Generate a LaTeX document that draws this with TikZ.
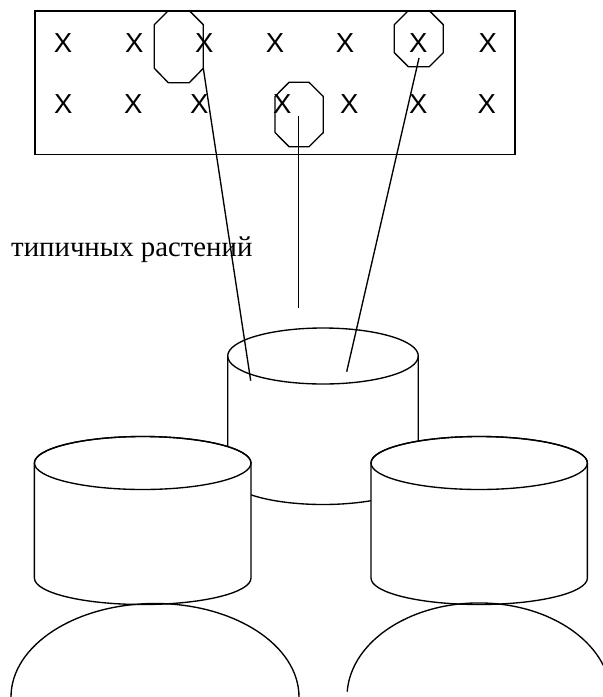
\documentclass[tikz,border=0pt]{standalone}
\usepackage{fontspec}
\setmainfont{Liberation Serif}
\newfontfamily\xsans{Liberation Sans}
\tikzset{
  ln/.style={line width=1.35pt, black},
  xmark/.style={anchor=base, inner sep=0pt, font=\xsans\fontsize{27.5}{32}\selectfont},
  lbl/.style={anchor=base west, inner sep=0pt, font=\fontsize{28.8}{34}\selectfont},
  cylfill/.style={ln, fill=white}
}
\begin{document}
\begin{tikzpicture}[x=1pt,y=-1pt]
\useasboundingbox (0,0) rectangle (603,697);
\clip (0,0) rectangle (603,697);
% field rectangle
\draw[ln] (35,11) rectangle (515,154.5);
% X marks row 1
\foreach \xx/\n in {63/a1,134.3/a2,204.3/a3,275/a4,345/a5,418.3/a6,487.7/a7}
  \node[xmark] (\n) at (\xx,52.7) {X};
% X marks row 2
\foreach \xx/\n in {63.3/b1,133.3/b2,199.3/b3,282.3/b4,349.3/b5,418.3/b6,486.7/b7}
  \node[xmark] (\n) at (\xx,113.3) {X};
% octagons
\draw[ln] (168.3,10.7) -- (189.3,10.7) -- (203.3,24.7) -- (203.3,68.3) -- (189.3,82.7) -- (168.3,82.7) -- (154.3,68.3) -- (154.3,24.7) -- cycle;
\draw[ln] (408.3,10.7) -- (429.3,10.7) -- (443.3,24.7) -- (443.3,52.7) -- (429.3,66.7) -- (408.3,66.7) -- (394.3,52.7) -- (394.3,24.7) -- cycle;
\draw[ln] (289,82.3) -- (309,82.3) -- (323.3,96.5) -- (323.3,132.5) -- (309,146.7) -- (289,146.7) -- (275,132.5) -- (275,96.5) -- cycle;
% label
\node[lbl] (label) at (11,256) {типичных растений};
% top cylinder
\draw[ln] (227.7,356) -- (227.7,476.5) arc[start angle=180, end angle=360, x radius=95.3pt, y radius=28pt] -- (418.3,356);
\draw[ln] (323,356) ellipse [x radius=95.3pt, y radius=28pt];
% connector end points
\coordinate (s1) at (203.3,68.3);
\coordinate (e1) at (250.7,380.7);
\coordinate (s2) at (298.3,116);
\coordinate (e2) at (298.3,308);
\coordinate (s3) at (419,58);
\coordinate (e3) at (346.7,371.7);
\draw[ln] (s1) -- (e1);
\draw[ln] (s2) -- (e2);
\draw[ln] (s3) -- (e3);
% left cylinder
\filldraw[cylfill] (34.4,463) -- (34.4,578) arc[start angle=180, end angle=360, x radius=108.3pt, y radius=26.5pt] -- (251,463) arc[start angle=0, end angle=180, x radius=108.3pt, y radius=26.5pt] -- cycle;
\draw[ln] (142.7,463) ellipse [x radius=108.3pt, y radius=26.5pt];
% right cylinder
\filldraw[cylfill] (371,463) -- (371,578) arc[start angle=180, end angle=360, x radius=108.2pt, y radius=26.5pt] -- (587.4,463) arc[start angle=0, end angle=180, x radius=108.2pt, y radius=26.5pt] -- cycle;
\draw[ln] (479.2,463) ellipse [x radius=108.2pt, y radius=26.5pt];
% bottom arcs
\draw[ln] (11,697) arc[start angle=180, end angle=0, x radius=144pt, y radius=93.5pt];
\draw[ln] (347.2,691.7) arc[start angle=176.8, end angle=0, x radius=132pt, y radius=94pt];
\end{tikzpicture}
\end{document}
